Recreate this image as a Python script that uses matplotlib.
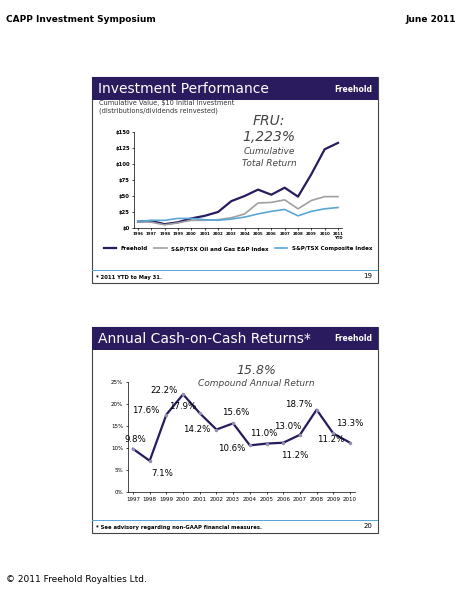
import matplotlib.pyplot as plt
from matplotlib.patches import Rectangle

W, H = 464, 600
fig = plt.figure(figsize=(4.64, 6.0), dpi=100)

# data
perf_years = ['1996', '1997', '1998', '1999', '2000', '2001', '2002', '2003', '2004',
              '2005', '2006', '2007', '2008', '2009', '2010', '2011\nYTD']
freehold = [10, 11, 6, 9, 15, 19, 25, 42, 50, 60, 52, 63, 49, 84, 123, 133]
oil_gas = [10, 9, 5, 8, 12, 12, 13, 16, 22, 39, 40, 44, 30, 43, 49, 49]
composite = [10, 12, 12, 15, 15, 13, 12, 14, 17, 22, 26, 29, 19, 26, 30, 32]
perf_ticks = [0, 25, 50, 75, 100, 125, 150]

cash_years = ['1997', '1998', '1999', '2000', '2001', '2002', '2003', '2004', '2005',
              '2006', '2007', '2008', '2009', '2010']
cash_ret = [9.8, 7.1, 17.6, 22.2, 17.9, 14.2, 15.6, 10.6, 11.0, 11.2, 13.0, 18.7, 13.3, 11.2]
cash_ticks = [0, 5, 10, 15, 20, 25]
label_off = [(2, 7), (9, -9), (-15, 3), (-14, 3), (-12, 5), (-14, 0), (2, 8), (-13, -2),
             (-2, 7), (8, -9), (-9, 6), (-13, 4), (12, 7), (-14, 2)]

purple = '#2a1a5e'
blue = '#5aa7d6'


def fx(px):
    return px / W


def fy(py):
    return 1 - py / H


def box(x0, y0, x1, y1, **kw):
    fig.patches.append(Rectangle((fx(x0), fy(y1)), fx(x1) - fx(x0), fy(y0) - fy(y1),
                                 transform=fig.transFigure, zorder=0, **kw))


fig.text(fx(6), fy(20), 'CAPP Investment Symposium', fontsize=6.5, fontweight='bold', va='center')
fig.text(fx(456), fy(20), 'June 2011', fontsize=6.5, fontweight='bold', va='center', ha='right')
fig.text(fx(6), fy(580), '© 2011 Freehold Royalties Ltd.', fontsize=6.5, va='center')


def slide(top, title, foot, page):
    box(92, top, 378, top + 206, facecolor='white', edgecolor='#444444', lw=0.8)
    box(92, top, 378, top + 23, facecolor=purple, edgecolor='none')
    fig.text(fx(98), fy(top + 12), title, color='white', fontsize=10, va='center')
    fig.text(fx(372), fy(top + 12), 'Freehold', color='white', fontsize=5.5,
             fontweight='bold', va='center', ha='right')
    box(92, top + 193, 378, top + 194, facecolor=blue, edgecolor='none')
    fig.text(fx(96), fy(top + 200), foot, fontsize=3.8, fontweight='bold', va='center')
    fig.text(fx(372), fy(top + 199), page, fontsize=5, va='center', ha='right')


slide(77, 'Investment Performance', '* 2011 YTD to May 31.', '19')
slide(327, 'Annual Cash-on-Cash Returns*', '* See advisory regarding non-GAAP financial measures.', '20')

# top chart
ax = fig.add_axes([fx(134), fy(228), fx(342) - fx(134), fy(132) - fy(228)])
ax.set_zorder(2)
x = list(range(len(perf_years)))
ax.plot(x, freehold, color=purple, lw=1.6, label='Freehold')
ax.plot(x, oil_gas, color='#a0a0a0', lw=1.2, label='S&P/TSX Oil and Gas E&P Index')
ax.plot(x, composite, color=blue, lw=1.2, label='S&P/TSX Composite Index')
ax.set_ylim(0, 150)
ax.set_xlim(-0.3, len(x) - 0.7)
ax.set_yticks(perf_ticks)
ax.set_yticklabels(['$%d' % v for v in perf_ticks], fontsize=3.8, fontweight='bold')
ax.set_xticks(x)
ax.set_xticklabels(perf_years, fontsize=2.8, fontweight='bold', linespacing=0.9)
ax.tick_params(length=1.5, pad=1.5, width=0.5)
for s in ['top', 'right']:
    ax.spines[s].set_visible(False)
for s in ['left', 'bottom']:
    ax.spines[s].set_linewidth(0.5)
ax.patch.set_alpha(0)
ax.legend(loc='upper center', bbox_to_anchor=(0.5, -0.14), ncol=3, frameon=False,
          handlelength=2.2, columnspacing=1.2, prop={'weight': 'bold', 'size': 4})
fig.text(fx(99), fy(107), 'Cumulative Value, $10 Initial Investment\n(distributions/dividends reinvested)',
         fontsize=4.8, va='center', color='#333333', linespacing=1.1)
fig.text(fx(269), fy(121), 'FRU:', fontsize=10, style='italic', color='#444444', ha='center', va='center')
fig.text(fx(269), fy(137), '1,223%', fontsize=10, style='italic', color='#444444', ha='center', va='center')
fig.text(fx(269), fy(151), 'Cumulative', fontsize=6.5, style='italic', color='#444444', ha='center', va='center')
fig.text(fx(269), fy(164), 'Total Return', fontsize=6.5, style='italic', color='#444444', ha='center', va='center')

# bottom chart
ax2 = fig.add_axes([fx(128), fy(492), fx(355) - fx(128), fy(382) - fy(492)])
ax2.set_zorder(2)
x2 = list(range(len(cash_years)))
ax2.plot(x2, cash_ret, color=purple, lw=1.6, marker='o', ms=1.5, mfc='#9090b0', mec='#9090b0')
for i, v in enumerate(cash_ret):
    dx, dy = label_off[i]
    ax2.annotate('%.1f%%' % v, (i, v), xytext=(dx, dy), textcoords='offset points',
                 ha='center', va='center', fontsize=6.2)
ax2.set_ylim(0, 25)
ax2.set_xlim(-0.3, len(x2) - 0.7)
ax2.set_yticks(cash_ticks)
ax2.set_yticklabels(['%d%%' % v for v in cash_ticks], fontsize=4)
ax2.set_xticks(x2)
ax2.set_xticklabels(cash_years, fontsize=4)
ax2.tick_params(length=1.5, pad=2, width=0.5)
for s in ['top', 'right']:
    ax2.spines[s].set_visible(False)
for s in ['left', 'bottom']:
    ax2.spines[s].set_linewidth(0.5)
ax2.patch.set_alpha(0)
fig.text(fx(256), fy(371), '15.8%', fontsize=9, style='italic', color='#444444', ha='center', va='center')
fig.text(fx(256), fy(384), 'Compound Annual Return', fontsize=6.5, style='italic', color='#444444',
         ha='center', va='center')

fig.savefig('out.png', dpi=100, facecolor='white')
